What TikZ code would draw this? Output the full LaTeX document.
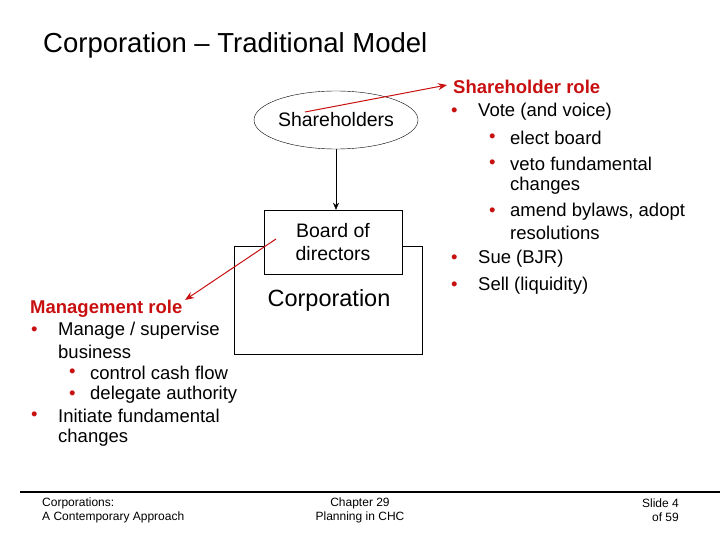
\documentclass[tikz,border=0pt]{standalone}
\usepackage{fontspec}
\setmainfont{Liberation Sans}
\usetikzlibrary{arrows.meta,shapes.geometric}
\definecolor{rd}{RGB}{200,16,16}
\begin{document}
\begin{tikzpicture}[x=1pt,y=-1pt,
  nodetxt/.style={font=\fontsize{19.5}{23}\selectfont},
  ln/.style={anchor=west,inner sep=0pt,font=\fontsize{18.5}{22}\selectfont},
  hd/.style={ln,text=rd,font=\fontsize{18.5}{22}\selectfont\bfseries},
  bul/.style={ln,text=rd},
  redarrow/.style={draw=rd,line width=1pt,-{Stealth[length=9pt,width=7pt]}},
  foot/.style={font=\fontsize{12}{14}\selectfont,inner sep=0pt}]
\useasboundingbox (0,0) rectangle (720,540);
\node[anchor=west,inner sep=0pt,font=\fontsize{27.5}{32}\selectfont] (title) at (43,45) {Corporation -- Traditional Model};
\draw (234,246) rectangle (422,354);
\node[font=\fontsize{23.5}{27}\selectfont] (corp) at (329,300) {Corporation};
\node[draw,fill=white,minimum width=138pt,minimum height=64pt,inner sep=0pt,align=center,nodetxt] (board) at (333,242) {Board of\\directors};
\node[draw,ellipse,minimum width=124pt,minimum height=58pt,inner sep=0pt,nodetxt] (sh) at (336,120) {Shareholders};
\draw[-{Stealth[length=7pt,width=6pt]}] (sh.south) -- (sh.south |- board.north);
\coordinate (a1) at (305,112);
\coordinate (a2) at (447,85);
\coordinate (b1) at (276,239);
\coordinate (b2) at (185,300);
\draw[redarrow] (a1) -- (a2);
\draw[redarrow] (b1) -- (b2);
% right block
\node[hd] (r0) at (453,87) {Shareholder role};
\node[bul] (rb1) at (451,112) {•}; \node[ln] (r1) at (478,112) {Vote (and voice)};
\node[bul] (rb2) at (489,138) {•}; \node[ln] (r2) at (510,138) {elect board};
\node[bul] (rb3) at (489,164) {•}; \node[ln] (r3) at (510,164) {veto fundamental};
\node[ln] (r3b) at (510,186) {changes};
\node[bul] (rb4) at (489,212) {•}; \node[ln] (r4) at (510,212) {amend bylaws, adopt};
\node[ln] (r4b) at (510,233) {resolutions};
\node[bul] (rb5) at (451,259) {•}; \node[ln] (r5) at (478,259) {Sue (BJR)};
\node[bul] (rb6) at (451,286) {•}; \node[ln] (r6) at (478,286) {Sell (liquidity)};
% left block
\node[hd] (l0) at (30,309) {Management role};
\node[bul] (lb1) at (31,331) {•}; \node[ln] (l1) at (58,331) {Manage / supervise};
\node[ln] (l1b) at (58,352) {business};
\node[bul] (lb2) at (69,373) {•}; \node[ln] (l2) at (90,373) {control cash flow};
\node[bul] (lb3) at (69,395) {•}; \node[ln] (l3) at (90,395) {delegate authority};
\node[bul] (lb4) at (31,416) {•}; \node[ln] (l4) at (58,416) {Initiate fundamental};
\node[ln] (l4b) at (58,438) {changes};
% footer
\draw[line width=1.5pt] (20,492) -- (720,492);
\node[foot,anchor=west] (f1) at (42,503) {Corporations:};
\node[foot,anchor=west] (f1b) at (42,517) {A Contemporary Approach};
\node[foot] (f2) at (360,503) {Chapter 29};
\node[foot] (f2b) at (360,517) {Planning in CHC};
\node[foot,anchor=east] (f3) at (679,503) {Slide 4};
\node[foot,anchor=east] (f3b) at (679,517) {of 59};
\end{tikzpicture}
\end{document}
